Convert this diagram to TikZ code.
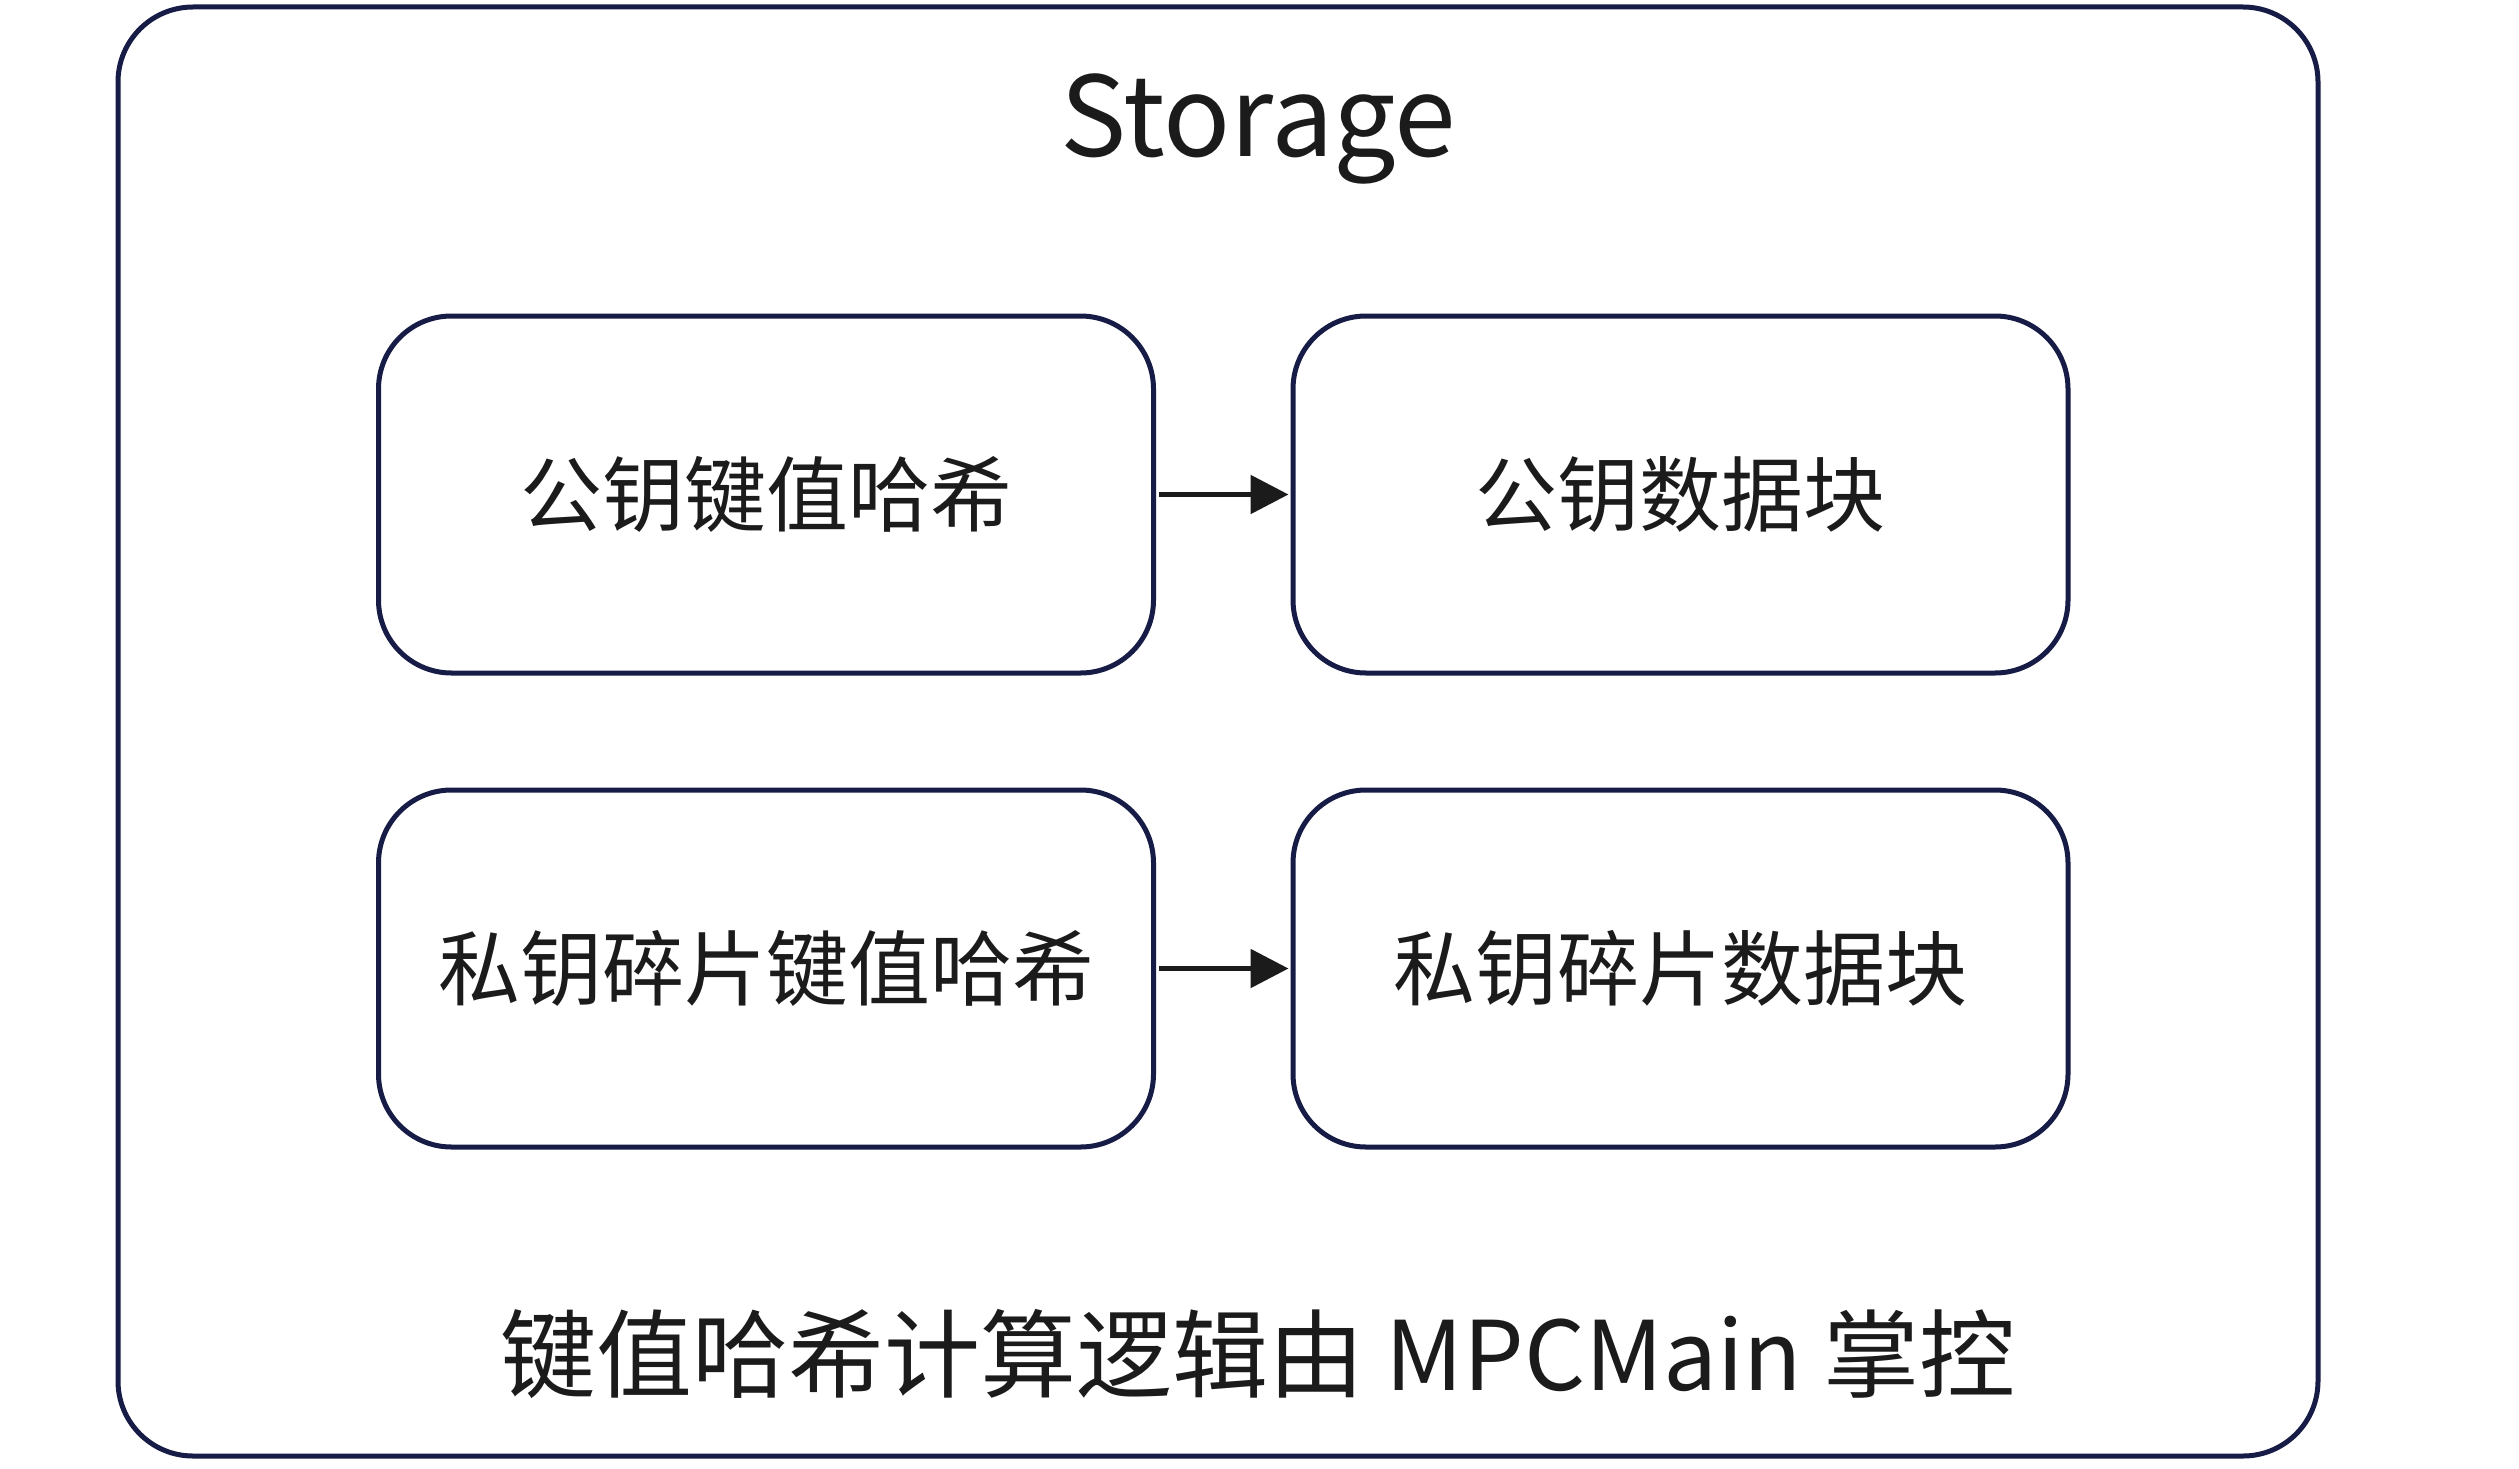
\documentclass[tikz,border=0pt]{standalone}
\usepackage{fontspec}
\setmainfont{Noto Sans CJK SC}
\usetikzlibrary{arrows.meta}
\definecolor{navy}{RGB}{22,28,70}
\definecolor{ink}{RGB}{27,27,27}
\tikzset{
  outerbox/.style={draw=navy, line width=5pt, rounded corners=75pt, inner sep=0pt,
    minimum width=2200pt, minimum height=1449pt},
  itembox/.style={draw=navy, line width=5pt, rounded corners=73pt, inner sep=0pt,
    minimum width=775pt, minimum height=357pt, text=ink,
    font=\fontsize{82}{100}\selectfont},
  titletext/.style={text=ink, inner sep=0pt, anchor=base, font=\fontsize{111}{130}\selectfont},
  notetext/.style={text=ink, inner sep=0pt, anchor=base, font=\fontsize{96}{110}\selectfont},
  flow/.style={draw=ink, line width=5.5pt, -{Triangle[length=38pt,width=38pt]},
    shorten <=3pt, shorten >=2pt}
}
\begin{document}
\begin{tikzpicture}[x=1pt,y=-1pt]
\useasboundingbox[fill=white] (0,0) rectangle (2519,1469);
\node[outerbox] (storage) at (1218,731.5) {};
\node[titletext] (title) at (1258,157) {Storage};
\node[itembox] (pkhash) at (766,494.5) {公钥键值哈希};
\node[itembox] (pkdata) at (1680.5,494.5) {公钥数据块};
\node[itembox] (skhash) at (766,968.5) {私钥碎片键值哈希};
\node[itembox] (skdata) at (1680.5,968.5) {私钥碎片数据块};
\node[notetext] (note) at (1258,1390) {键值哈希计算逻辑由 MPCMain 掌控};
\draw[flow] (pkhash) -- (pkdata);
\draw[flow] (skhash) -- (skdata);
\end{tikzpicture}
\end{document}
